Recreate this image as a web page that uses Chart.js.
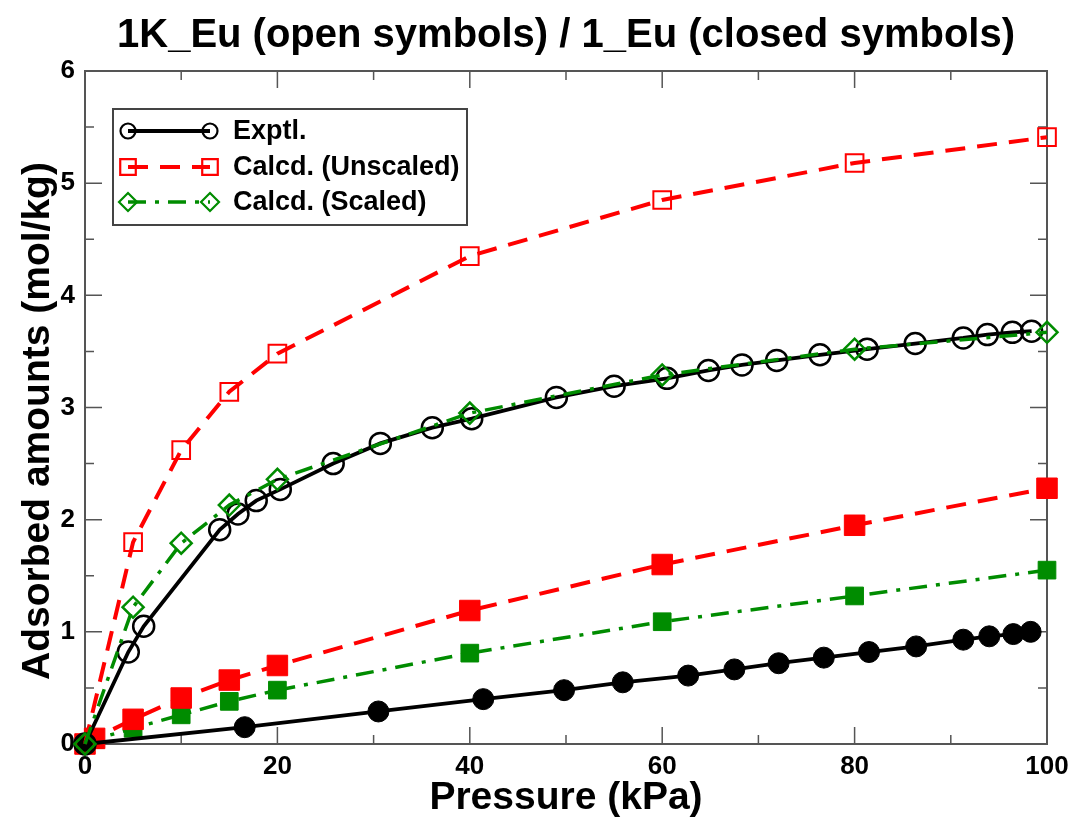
<!DOCTYPE html>
<html>
<head>
<meta charset="utf-8">
<script src="https://cdn.jsdelivr.net/npm/chart.js@4/dist/chart.umd.min.js"></script>
<style>
  html, body { margin: 0; padding: 0; background: #fff; }
  #wrap { width: 1072px; height: 818px; }
</style>
</head>
<body>
<div id="wrap"><canvas id="c" width="1072" height="818"></canvas></div>
<script>
// ---- data ----
const exptlOpenX = [0, 4.5, 6.1, 14.0, 15.9, 17.8, 20.3, 25.8, 30.7, 36.1, 40.2, 49.0, 55.0, 60.5, 64.8, 68.3, 71.9, 76.4, 81.3, 86.3, 91.3, 93.8, 96.4, 98.4];
const exptlOpenY = [0, 0.82, 1.05, 1.91, 2.05, 2.17, 2.27, 2.50, 2.68, 2.82, 2.90, 3.09, 3.19, 3.26, 3.33, 3.38, 3.42, 3.47, 3.52, 3.57, 3.62, 3.65, 3.67, 3.68];

const exptlClosedX = [0, 16.6, 30.5, 41.4, 49.8, 55.9, 62.7, 67.5, 72.1, 76.8, 81.5, 86.4, 91.3, 94.0, 96.5, 98.3];
const exptlClosedY = [0, 0.15, 0.29, 0.40, 0.48, 0.55, 0.61, 0.665, 0.72, 0.77, 0.82, 0.87, 0.93, 0.96, 0.98, 1.00];

const calcOpenX = [0, 5, 10, 15, 20, 40, 60, 80, 100];
const unscaledOpen = [0, 1.80, 2.62, 3.14, 3.48, 4.35, 4.85, 5.18, 5.41];
const scaledOpen = [0, 1.22, 1.79, 2.13, 2.36, 2.95, 3.29, 3.52, 3.67];

const calcClosedX = [0, 1, 5, 10, 15, 20, 40, 60, 80, 100];
const unscaledClosed = [0, 0.05, 0.22, 0.41, 0.57, 0.70, 1.19, 1.60, 1.95, 2.28];
const scaledClosed = [0, 0.04, 0.14, 0.26, 0.38, 0.48, 0.81, 1.09, 1.32, 1.55];

const xTicks = [0, 20, 40, 60, 80, 100];
const yTicks = [0, 1, 2, 3, 4, 5, 6];
const legendLabels = ['Exptl.', 'Calcd. (Unscaled)', 'Calcd. (Scaled)'];
const titleText = '1K_Eu (open symbols) / 1_Eu (closed symbols)';
const xTitle = 'Pressure (kPa)';
const yTitle = 'Adsorbed amounts (mol/kg)';

const RED = '#ff0000';
const GREEN = 'rgb(0,140,0)';
const BLACK = '#000000';
const FONT = '"Liberation Sans", Arial, Helvetica, sans-serif';

function pts(xs, ys) { return xs.map((x, i) => ({ x: x, y: ys[i] })); }

const RED_DASH = [20, 12];
const GREEN_DASH = [18, 9, 4, 9];

const datasets = [
  { label: 'scaledClosed', data: pts(calcClosedX, scaledClosed), borderColor: GREEN, backgroundColor: GREEN,
    borderWidth: 3.5, borderDash: GREEN_DASH, pointStyle: 'rect', pointRadius: 12.5, pointBorderWidth: 1, order: 6 },
  { label: 'unscaledClosed', data: pts(calcClosedX, unscaledClosed), borderColor: RED, backgroundColor: RED,
    borderWidth: 4, borderDash: RED_DASH, pointStyle: 'rect', pointRadius: 14.5, pointBorderWidth: 1, order: 5 },
  { label: 'exptlClosed', data: pts(exptlClosedX, exptlClosedY), borderColor: BLACK, backgroundColor: BLACK,
    borderWidth: 3.8, pointStyle: 'circle', pointRadius: 10.5, pointBorderWidth: 1, order: 4 },
  { label: 'unscaledOpen', data: pts(calcOpenX, unscaledOpen), borderColor: RED, backgroundColor: 'rgba(0,0,0,0)',
    borderWidth: 4, borderDash: RED_DASH, pointStyle: 'rect', pointRadius: 12.5, pointBorderWidth: 2, order: 3 },
  { label: 'exptlOpen', data: pts(exptlOpenX, exptlOpenY), borderColor: BLACK, backgroundColor: 'rgba(0,0,0,0)',
    borderWidth: 3.8, pointStyle: 'circle', pointRadius: 10.5, pointBorderWidth: 2.5, order: 2 },
  { label: 'scaledOpen', data: pts(calcOpenX, scaledOpen), borderColor: GREEN, backgroundColor: 'rgba(0,0,0,0)',
    borderWidth: 3.5, borderDash: GREEN_DASH, pointStyle: 'rectRot', pointRadius: 10.5, pointBorderWidth: 2.5, order: 1 }
];
datasets.forEach(d => {
  d.pointBorderColor = d.borderColor;
  d.pointBackgroundColor = d.backgroundColor;
  d.fill = false; d.tension = 0; d.clip = false; d.showLine = true;
  d.pointHoverRadius = d.pointRadius;
});

// frame + inward ticks (major and minor), drawn via the scales
const framePlugin = {
  id: 'frame',
  beforeDatasetsDraw(chart) {
    const ctx = chart.ctx, a = chart.chartArea;
    const xs = chart.scales.x, ys = chart.scales.y;
    ctx.save();
    ctx.strokeStyle = '#555';
    ctx.lineWidth = 2;
    ctx.strokeRect(a.left, a.top, a.right - a.left, a.bottom - a.top);
    ctx.lineWidth = 1.5;
    ctx.beginPath();
    for (let v = 10; v < 100; v += 10) {
      const px = xs.getPixelForValue(v);
      const len = (v % 20 === 0) ? 17 : 9;
      ctx.moveTo(px, a.bottom); ctx.lineTo(px, a.bottom - len);
      ctx.moveTo(px, a.top); ctx.lineTo(px, a.top + len);
    }
    for (let k = 1; k < 12; k++) {
      const v = k * 0.5;
      const py = ys.getPixelForValue(v);
      const len = (k % 2 === 0) ? 17 : 9;
      ctx.moveTo(a.left, py); ctx.lineTo(a.left + len, py);
      ctx.moveTo(a.right, py); ctx.lineTo(a.right - len, py);
    }
    ctx.stroke();
    ctx.restore();
  }
};

// titles and legend
const textPlugin = {
  id: 'texts',
  afterDraw(chart) {
    const ctx = chart.ctx, a = chart.chartArea;
    const H = Chart.helpers;
    const cx = (a.left + a.right) / 2;
    ctx.save();
    ctx.fillStyle = '#000';
    ctx.textAlign = 'center';
    ctx.textBaseline = 'middle';
    ctx.font = 'bold 40px ' + FONT;
    ctx.fillText(titleText, cx, 36);
    ctx.font = 'bold 39px ' + FONT;
    ctx.fillText(xTitle, cx, 798);
    ctx.save();
    ctx.translate(38, 421);
    ctx.rotate(-Math.PI / 2);
    ctx.fillText(yTitle, 0, 0);
    ctx.restore();

    // legend
    ctx.fillStyle = '#fff';
    ctx.fillRect(113, 109, 354, 116);
    ctx.strokeStyle = '#444';
    ctx.lineWidth = 2;
    ctx.strokeRect(113, 109, 354, 116);
    const rows = [
      { ds: datasets[4], y: 131, r: 7.5 },
      { ds: datasets[3], y: 167, r: 11 },
      { ds: datasets[5], y: 202, r: 9 }
    ];
    rows.forEach((row, i) => {
      const d = row.ds;
      ctx.save();
      ctx.strokeStyle = d.borderColor;
      ctx.lineWidth = d.borderWidth;
      ctx.setLineDash(d.borderDash || []);
      ctx.beginPath();
      ctx.moveTo(128, row.y); ctx.lineTo(210, row.y);
      ctx.stroke();
      ctx.restore();
      ctx.save();
      ctx.strokeStyle = d.borderColor;
      ctx.fillStyle = 'rgba(0,0,0,0)';
      ctx.lineWidth = 2.2;
      ctx.setLineDash([]);
      [128, 210].forEach(px => {
        H.drawPoint(ctx, { pointStyle: d.pointStyle, radius: row.r, rotation: 0, borderWidth: 2.2 }, px, row.y);
      });
      ctx.restore();
      ctx.fillStyle = '#000';
      ctx.font = 'bold 27px ' + FONT;
      ctx.textBaseline = 'middle';
      ctx.textAlign = 'left';
      ctx.fillText(legendLabels[i], 233, row.y + 1);
    });
    ctx.restore();
  }
};

new Chart(document.getElementById('c'), {
  type: 'scatter',
  data: { datasets: datasets },
  options: {
    responsive: false,
    animation: false,
    devicePixelRatio: 1,
    layout: { padding: { left: 14, right: 25, top: 71, bottom: 0 } },
    plugins: {
      legend: { display: false },
      tooltip: { enabled: false },
      title: { display: false }
    },
    scales: {
      x: {
        type: 'linear', min: 0, max: 100,
        afterBuildTicks(s) { s.ticks = xTicks.map(v => ({ value: v })); },
        afterFit(s) { s.height = 74; s.paddingLeft = 0; s.paddingRight = 0; },
        grid: { display: false, drawTicks: false },
        border: { display: false },
        ticks: { color: '#000', padding: 7, maxRotation: 0, font: { family: FONT, size: 26, weight: 'bold' } },
        title: { display: false }
      },
      y: {
        type: 'linear', min: 0, max: 6,
        afterBuildTicks(s) { s.ticks = yTicks.map(v => ({ value: v })); },
        afterFit(s) { s.width = 71; s.paddingTop = 0; s.paddingBottom = 0; },
        grid: { display: false, drawTicks: false },
        border: { display: false },
        ticks: { color: '#000', padding: 10, font: { family: FONT, size: 26, weight: 'bold' } },
        title: { display: false }
      }
    }
  },
  plugins: [framePlugin, textPlugin]
});
</script>
</body>
</html>
